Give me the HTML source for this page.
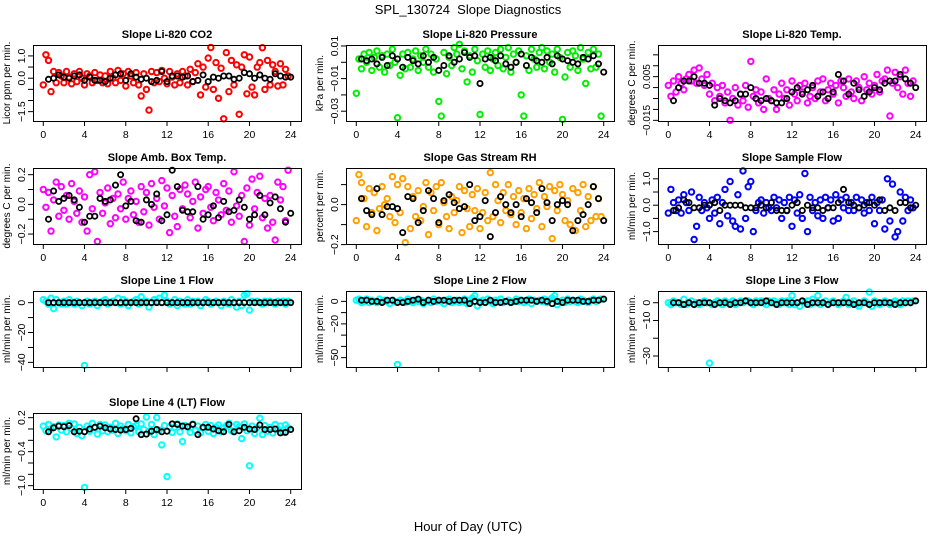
<!DOCTYPE html>
<html><head><meta charset="utf-8"><style>
body{margin:0;background:#fff;}
svg{display:block;font-family:"Liberation Sans",Arial,sans-serif;}
</style></head><body>
<svg id="chart" width="936" height="540" viewBox="0 0 936 540">
<text x="468" y="14" font-size="13" text-anchor="middle">SPL_130724&#160; Slope Diagnostics</text>
<text x="468" y="531" font-size="13" text-anchor="middle">Hour of Day (UTC)</text>
</svg>
<script>
// ---- data (quarter-hour colored series, half-hour black series) ----
const co2Vals=[-0.3,1.05,0.8,-0.6,0.3,-0.2,0.25,0.1,-0.2,0.3,0.05,-0.25,0.2,-0.15,0.3,0.0,-0.3,0.2,0.1,-0.2,0.25,-0.1,0.15,-0.2,0.1,-0.25,0.3,0.0,-0.2,0.35,-0.1,0.2,-0.35,0.3,0.1,-0.2,0.25,-0.3,-0.8,0.2,-0.5,-1.43,0.3,-0.2,0.25,-0.15,0.35,0.0,-0.25,0.3,0.05,-0.3,0.2,-0.2,0.3,0.1,-0.3,0.4,-0.15,0.25,0.65,-0.75,0.5,-0.4,0.9,1.38,-0.5,0.7,-0.9,0.45,-1.82,1.15,-0.6,0.8,-0.3,0.6,-1.62,0.5,1.05,-0.7,0.95,-0.4,-0.75,0.5,0.7,1.37,-0.5,0.8,-0.3,0.6,0.3,-0.35,0.65,-0.3,0.4,0.1];
const co2Ref=[-0.05,0.0,0.15,0.05,0.0,0.1,0.15,-0.1,0.05,-0.1,-0.1,-0.15,0.0,0.15,0.2,-0.1,0.2,0.05,-0.05,0.0,-0.15,-0.1,0.3,-0.15,0.1,0.1,0.05,0.1,-0.15,-0.1,0.15,-0.15,0.05,0.0,0.1,0.1,-0.05,0.0,0.25,0.2,0.0,0.15,0.0,-0.05,0.2,0.1,0.05,0.05];
const presVals=[-19,2,-4,5,0,6,-5,3,7,-3,4,-6,5,-2,8,0,-34,-8,5,-4,6,-3,2,7,-5,4,0,8,-3,5,-6,2,-24,-33,6,-7,3,-2,9,5,11,-4,7,-12,4,-6,8,1,-32,5,-3,7,-5,2,6,-2,8,-4,3,9,-6,5,0,7,-20,-33,4,-5,8,2,-3,6,9,-4,7,0,5,-6,8,3,-35,-9,6,-3,7,4,-5,9,2,-13,6,-4,8,-3,5,-33].map(v=>v/1000);
const presRef=[2,1,2,-1,3,-2,4,2,-3,3,1,-1,4,0,3,-5,-2,4,0,2,6,3,4,-13,2,3,1,4,-1,-3,0,5,-2,3,1,0,3,-1,4,2,1,0,-1,3,2,4,-1,-6].map(v=>v/1000);
const tempVals=[1,-4,3,-2,5,2,-1,4,6,3,8,2,9,4,1,6,-3,2,-6,0,-4,1,-7,-2,-15,-5,0,-8,-3,-6,1,-9,12,-4,-1,-7,-2,-10,4,-5,-6,-1,-10,-3,2,-5,-1,-8,3,-3,-6,1,-2,2,-7,-4,0,-5,3,-2,4,-6,-1,2,-3,1,-7,3,0,-4,4,-2,-5,3,0,-6,5,-1,2,-3,1,6,-2,3,4,8,-13,2,7,0,5,-3,8,2,-4,3].map(v=>v/1000);
const tempRef=[-6,0,3,3,5,2,2,1,-8,-5,-6,-7,-6,-3,-3,0,-5,-6,-5,-6,-7,-7,-5,-2,0,-3,-1,1,-4,-2,-5,-2,6,3,-3,2,-1,-4,-2,0,-1,2,3,3,6,4,2,0].map(v=>v/1000);
const ambVals=[10,-2,8,-18,3,15,-8,12,-4,6,-10,14,2,-6,9,-12,5,-18,20,-3,22,-25,8,-6,1,11,-13,4,-9,7,-3,15,-10,4,9,-7,2,-12,12,-5,8,-14,14,-2,4,-10,16,-1,11,-19,6,-8,-15,10,-3,13,7,-9,2,15,-16,5,-6,10,12,-2,-11,8,3,-7,14,-4,9,-12,22,-1,-8,6,-25,11,-14,17,-3,8,19,-9,4,-16,6,-12,-24,15,3,12,-11,23].map(v=>v/100);
const ambRef=[-10,9,2,4,6,3,-2,-12,-8,-8,4,2,3,13,20,-1,2,-11,-12,3,0,7,-11,-7,23,12,-4,-5,-5,12,-10,-7,-1,-9,2,-5,-4,3,-2,-10,-7,6,-7,1,5,-3,-12,-6].map(v=>v/100);
const rhVals=[-8,15,11,3,-11,8,-4,6,-13,-2,9,0,3,-6,14,-9,10,-4,13,-19,9,-12,4,-6,7,-8,-1,11,-15,6,-3,9,-10,11,1,-6,-12,4,-4,2,9,-14,7,-2,-11,5,-3,8,-12,-4,6,-8,16,-6,10,2,-9,6,-3,10,-5,4,-10,7,-4,3,-12,8,-7,5,-2,11,-11,4,-1,9,-17,7,-3,10,5,-8,2,-10,8,-13,6,-3,10,-11,4,-8,9,-6,3,-6].map(v=>v/100);
const rhRef=[3,-3,-5,8,-5,-1,-1,-2,-14,4,3,-9,-3,7,3,-9,2,5,1,-2,-1,10,-8,-6,2,-16,-4,4,0,-4,0,-6,3,1,-4,8,1,-8,0,2,0,-13,-8,-5,0,9,3,-8].map(v=>v/100);
const sflowVals=[-3,6,1,-2,2,-3,4,1,-2,5,-13,-8,3,-2,1,-1,-5,2,-3,3,-7,1,6,-4,9,-6,-8,4,-9,13,-5,7,9,-10,-2,1,2,-3,1,-1,-2,3,-1,2,-5,1,-2,3,-8,2,-3,4,-5,12,-10,3,-2,1,-4,2,-5,3,-1,2,-6,4,-5,2,-1,3,-2,1,-2,3,-1,2,-3,1,-2,3,-7,1,-2,2,-9,10,-6,8,-12,-10,5,-6,3,-2,2,-1].map(v=>v/10);
const sflowRef=[-2,-1,2,1,-1,-1,0,0,1,-2,0,0,0,0,-1,-1,-1,0,-1,1,-2,-2,-2,0,1,-2,0,-1,-1,-2,-1,-1,1,6,1,0,-1,0,1,0,2,-2,-1,-2,1,1,-1,0].map(v=>v/10);
const l1Vals=[2,1,-1,3,-4,2,0,-1,1,-1,2,0,-1,1,0,-2,-42,1,-1,0,1,-2,0,1,2,-1,0,1,0,3,-1,2,1,-2,0,1,2,-1,4,0,1,-3,0,2,1,3,0,5,1,-1,0,2,-2,1,0,-1,2,-1,1,0,1,-2,0,2,1,-1,0,1,0,-2,1,0,-1,2,0,-3,1,-2,5,6,-5,1,0,1,0,-1,1,0,1,0,-1,1,0,1,-1,1];
const l1Ref=[0,0,0,0,0,0,0,0,0,0,0,0,0,0,0,0,0,0,0,0,0,0,0,0,0,0,0,0,0,0,0,0,0,0,0,0,0,0,0,0,0,0,0,0,0,0,0,0];
const l2Vals=[1,2,-1,0,2,-1,1,0,-1,2,0,1,0,-2,1,0,-56,1,0,-1,2,0,-1,1,0,1,-2,0,1,-1,2,0,1,0,-2,1,2,-1,0,1,-1,0,2,-2,1,3,5,-4,0,1,-1,2,0,-2,1,0,2,-1,0,1,-1,0,2,0,1,-1,0,2,-2,1,0,1,0,2,-1,1,3,5,-3,0,1,-1,2,0,1,0,-1,2,1,0,-1,1,2,0,1,2];
const l2Ref=[1,1,0,0,-1,1,1,-1,-1,0,1,2,-1,1,0,1,1,0,1,1,1,-2,0,-1,-1,1,-1,-1,0,-1,0,1,1,1,0,1,0,-2,0,-1,1,1,1,0,0,1,1,2];
const l3Vals=[0,-1,1,0,0,-1,2,-1,0,1,-1,0,-1,0,1,0,-34,-1,0,1,0,-1,1,0,0,1,-1,0,1,0,1,1,0,-1,1,0,1,0,-1,1,0,1,0,-1,1,0,1,-1,4,-1,0,-2,1,0,1,-1,2,0,4,-1,0,1,-1,0,1,0,-1,0,1,3,-1,0,1,-1,-2,0,1,0,6,-2,1,0,-1,0,1,0,-1,0,1,0,-1,1,0,1,0,1];
const l3Ref=[0,0,-1,0,-1,0,0,0,-1,0,0,-1,0,0,1,0,0,0,1,0,-1,0,0,0,0,1,-1,0,0,0,-1,0,0,0,0,-1,0,0,-1,0,0,0,0,-1,0,0,0,1];
const l4Vals=[5,-3,8,0,4,-14,7,-2,6,-5,10,1,9,-8,3,-12,-103,5,-4,10,2,-9,8,-3,7,-5,3,-2,10,-8,5,1,-3,8,-7,4,6,-5,9,-1,21,-4,8,-10,20,-2,-28,6,-84,4,-6,3,9,-5,-22,6,3,-6,9,-2,5,-7,2,8,-4,6,-8,3,7,-5,2,6,10,-3,-5,8,4,-17,9,-3,-65,5,-8,2,19,-10,6,-4,3,-7,8,0,5,-6,7,2].map(v=>v/100);
const l4Ref=[-5,2,5,4,6,-5,-4,-5,0,3,5,2,0,-1,-2,-1,1,18,-10,-9,-4,-1,-5,-4,9,8,5,4,8,-10,3,3,0,-3,-5,8,-5,-3,3,0,-1,7,-1,-1,0,-7,-6,-1].map(v=>v/100);
const xTicks=[0,4,8,12,16,20,24];
const co2Ticks=[1.0,0.5,0.0,-0.5,-1.0,-1.5], co2Labels=["1.0","","0.0","","","-1.5"];
const presTicks=[0.01,0,-0.01,-0.02,-0.03], presLabels=["0.01","","-0.01","","-0.03"];
const tempTicks=[0.015,0.01,0.005,0,-0.005,-0.01,-0.015], tempLabels=["","","0.005","","","","-0.015"];
const ambTicks=[0.2,0.1,0,-0.1,-0.2], ambLabels=["0.2","","0.0","","-0.2"];
const rhTicks=[0.1,0,-0.1,-0.2], rhLabels=["","0.0","","-0.2"];
const sflowTicks=[1,0.5,0,-0.5,-1], sflowLabels=["1.0","","0.0","","-1.0"];
const l1Ticks=[0,-10,-20,-30,-40], l1Labels=["0","","-20","","-40"];
const l2Ticks=[0,-10,-20,-30,-40,-50], l2Labels=["0","","-20","","","-50"];
const l3Ticks=[0,-10,-20,-30], l3Labels=["0","-10","","-30"];
const l4Ticks=[0.2,0,-0.2,-0.4,-0.6,-0.8,-1.0], l4Labels=["0.2","","","-0.4","","","-1.0"];

const panels=[
 {name:"co2",title:"Slope Li-820 CO2",ylab:"Licor ppm per min.",col:0,row:0,dom:[-1.92,1.49],vals:co2Vals,ref:co2Ref,ticks:co2Ticks,labels:co2Labels,color:"#ff0000",xl:true,fs:10.5},
 {name:"pressure",title:"Slope Li-820 Pressure",ylab:"kPa per min.",col:1,row:0,dom:[-0.036,0.0106],vals:presVals,ref:presRef,ticks:presTicks,labels:presLabels,color:"#00ee00",xl:true,fs:10.5},
 {name:"temp",title:"Slope Li-820 Temp.",ylab:"degrees C per min.",col:2,row:0,dom:[-0.0153,0.0195],vals:tempVals,ref:tempRef,ticks:tempTicks,labels:tempLabels,color:"#ff00ff",xl:true,fs:10},
 {name:"amb-box-temp",title:"Slope Amb. Box Temp.",ylab:"degrees C per min.",col:0,row:1,dom:[-0.267,0.245],vals:ambVals,ref:ambRef,ticks:ambTicks,labels:ambLabels,color:"#ff00ff",xl:true,fs:10.5},
 {name:"gas-rh",title:"Slope Gas Stream RH",ylab:"percent per min.",col:1,row:1,dom:[-0.197,0.183],vals:rhVals,ref:rhRef,ticks:rhTicks,labels:rhLabels,color:"#ffa000",xl:true,fs:10.5},
 {name:"sample-flow",title:"Slope Sample Flow",ylab:"ml/min per min.",col:2,row:1,dom:[-1.47,1.41],vals:sflowVals,ref:sflowRef,ticks:sflowTicks,labels:sflowLabels,color:"#0000ff",xl:true,fs:10.5},
 {name:"line1-flow",title:"Slope Line 1 Flow",ylab:"ml/min per min.",col:0,row:2,dom:[-43.1,7.8],vals:l1Vals,ref:l1Ref,ticks:l1Ticks,labels:l1Labels,color:"#00ffff",xl:false,fs:10.5},
 {name:"line2-flow",title:"Slope Line 2 Flow",ylab:"ml/min per min.",col:1,row:2,dom:[-58.3,9.2],vals:l2Vals,ref:l2Ref,ticks:l2Ticks,labels:l2Labels,color:"#00ffff",xl:false,fs:10.5},
 {name:"line3-flow",title:"Slope Line 3 Flow",ylab:"ml/min per min.",col:2,row:2,dom:[-36.2,6.6],vals:l3Vals,ref:l3Ref,ticks:l3Ticks,labels:l3Labels,color:"#00ffff",xl:false,fs:10.5},
 {name:"line4-flow",title:"Slope Line 4 (LT) Flow",ylab:"ml/min per min.",col:0,row:3,dom:[-1.059,0.282],vals:l4Vals,ref:l4Ref,ticks:l4Ticks,labels:l4Labels,color:"#00ffff",xl:true,fs:10.5}
];
const NS="http://www.w3.org/2000/svg";
const svg=document.getElementById('chart');
const colL=[33,346,658], rowT=[45,168,291,413], W=268, H=76;
function mk(tag,attrs,parent){const e=document.createElementNS(NS,tag);for(const k in attrs)e.setAttribute(k,attrs[k]);parent.appendChild(e);return e;}
panels.forEach(p=>{
  const L=colL[p.col], T=rowT[p.row], B=T+H;
  const g=mk('g',{},svg);
  
  
  const xs=t=>L+10.3+t*(247.4/24);
  const ys=v=>B-(v-p.dom[0])/(p.dom[1]-p.dom[0])*H;
  const cg=mk('g',{fill:'none',stroke:p.color,'stroke-width':2},g);
  
  
  p.vals.forEach((v,i)=>{const c=mk('circle',{cx:xs(i*0.25).toFixed(1),cy:ys(v).toFixed(1),r:2.7},cg);
    
    });
  const bg=mk('g',{fill:'none',stroke:'#000','stroke-width':1.8},g);
  
  
  p.ref.forEach((v,i)=>{const c=mk('circle',{cx:xs((i+1)*0.5).toFixed(1),cy:ys(v).toFixed(1),r:2.6},bg);
    
    });
  const box=mk('rect',{x:L+0.5,y:T+0.5,width:W,height:H,fill:'none',stroke:'#000','stroke-width':1},g);
  
  
  const t=mk('text',{x:L+W/2,y:T-7,'font-size':11,'font-weight':'bold','text-anchor':'middle'},g);
  t.textContent=p.title;
  
  
  xTicks.forEach(v=>{const x=xs(v);mk('line',{x1:x,x2:x,y1:B,y2:B+5,stroke:'#000'},g);
    if(p.xl){const tx=mk('text',{x:x,y:B+17,'font-size':10.5,'text-anchor':'middle'},g);tx.textContent=v;
      
      }});
  mk('line',{x1:xs(0),x2:xs(24),y1:B+0.5,y2:B+0.5,stroke:'#000'},g);
  p.ticks.forEach((v,i)=>{const y=ys(v);mk('line',{x1:L-5,x2:L,y1:y,y2:y,stroke:'#000'},g);
    if(p.labels[i]){const tx=mk('text',{x:0,y:0,'font-size':p.fs,'text-anchor':'middle',transform:`translate(${L-8},${y}) rotate(-90)`},g);
      tx.textContent=p.labels[i].replace('-','\u2212');
      
      }});
  const yl=mk('text',{x:0,y:0,'font-size':10,'text-anchor':'middle',transform:`translate(${L-23},${T+H/2}) rotate(-90)`},g);
  yl.textContent=p.ylab;
  
  
});
</script>
</body></html>
